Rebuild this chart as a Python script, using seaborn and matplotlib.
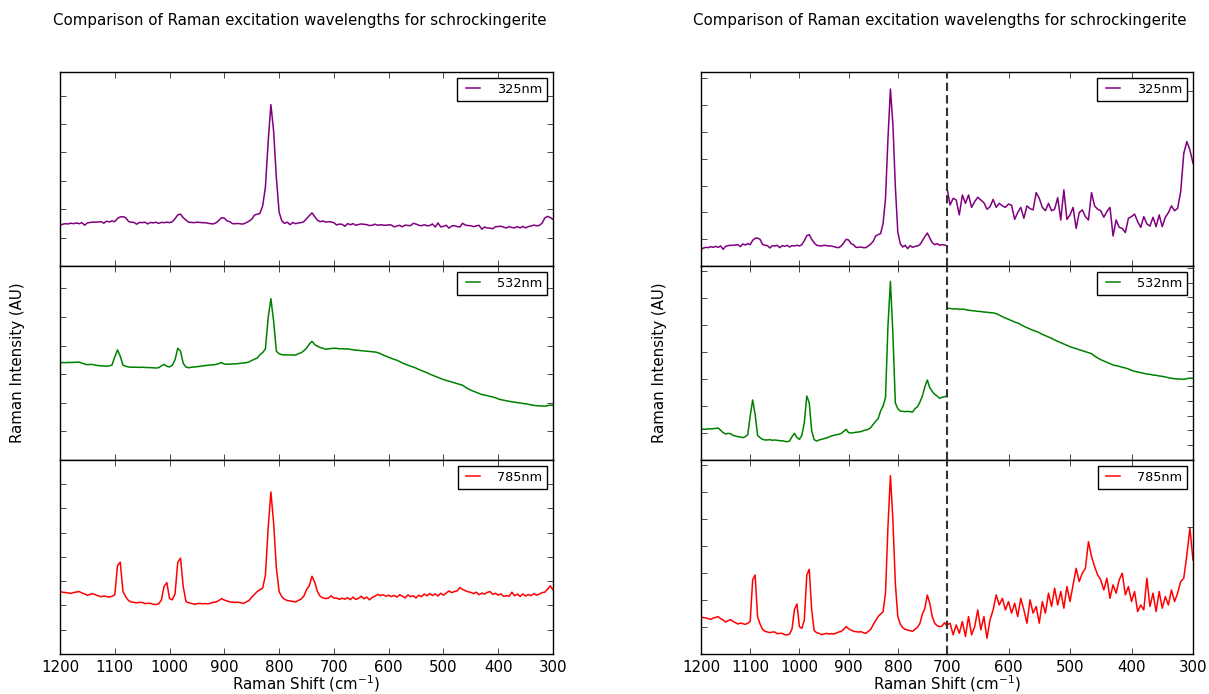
## Raman spectra of schrockingerite at three excitation wavelengths

import numpy as np
import pandas as pd
import seaborn as sns
import matplotlib.pyplot as plt
from matplotlib.ticker import MultipleLocator, FixedLocator

plt.style.use("classic")
plt.rcParams.update({
    "font.family": ["DejaVu Sans"],
    "font.size": 10.8,
    "mathtext.fontset": "dejavusans",
    "figure.facecolor": "white",
    "savefig.facecolor": "white",
    "lines.linewidth": 1.0,
})

# Raman shift grid (cm-1), 5 cm-1 steps
shift = np.arange(1200, 299, -5)

# intensities (AU), 1200 -> 700 and 695 -> 300
int_325_hi = [1428, 1472, 1489, 1481, 1507, 1489, 1516, 1489, 1525, 1437,
              1516, 1534, 1543, 1543, 1551, 1560, 1507, 1578, 1551, 1587,
              1560, 1675, 1728, 1737, 1701, 1569, 1543, 1534, 1472, 1534,
              1525, 1543, 1481, 1534, 1516, 1543, 1498, 1534, 1525, 1543,
              1525, 1560, 1666, 1798, 1825, 1701, 1613, 1543, 1534, 1525,
              1543, 1534, 1525, 1525, 1507, 1489, 1481, 1525, 1604, 1701,
              1684, 1587, 1560, 1489, 1489, 1498, 1481, 1481, 1525, 1578,
              1648, 1790, 1825, 1852, 2116, 2778, 4367, 5680, 4750, 3100,
              1896, 1587, 1498, 1543, 1454, 1534, 1489, 1516, 1525, 1560,
              1666, 1772, 1869, 1737, 1613, 1560, 1587, 1543, 1560, 1551,
              1525]
int_325_lo = [1444, 1476, 1468, 1397, 1492, 1452, 1492, 1433, 1460, 1481,
              1468, 1455, 1424, 1436, 1471, 1433, 1452, 1440, 1433, 1449,
              1443, 1376, 1408, 1433, 1381, 1440, 1427, 1421, 1503, 1476,
              1433, 1417, 1452, 1417, 1424, 1479, 1373, 1516, 1376, 1397,
              1433, 1333, 1408, 1421, 1389, 1373, 1503, 1440, 1424, 1417,
              1386, 1413, 1433, 1297, 1373, 1338, 1333, 1313, 1381, 1389,
              1401, 1365, 1338, 1389, 1354, 1344, 1386, 1341, 1397, 1341,
              1386, 1408, 1440, 1417, 1428, 1508, 1690, 1746, 1706, 1643]

int_532_hi = [3392, 3407, 3402, 3412, 3407, 3412, 3417, 3422, 3387, 3352,
              3331, 3341, 3336, 3311, 3301, 3291, 3286, 3276, 3291, 3321,
              3604, 3846, 3629, 3311, 3276, 3251, 3241, 3241, 3246, 3236,
              3241, 3236, 3230, 3230, 3220, 3215, 3225, 3291, 3341, 3276,
              3251, 3311, 3503, 3906, 3805, 3377, 3246, 3225, 3241, 3251,
              3261, 3271, 3286, 3301, 3311, 3321, 3326, 3341, 3372, 3402,
              3352, 3346, 3352, 3357, 3362, 3367, 3382, 3392, 3402, 3427,
              3478, 3523, 3563, 3679, 3755, 3881, 4965, 5640, 4850, 3800,
              3715, 3679, 3674, 3669, 3674, 3669, 3664, 3715, 3745, 3815,
              3906, 4047, 4148, 4032, 3977, 3931, 3906, 3871, 3886, 3896,
              3906]
int_532_lo = [3902, 3886, 3893, 3877, 3884, 3867, 3852, 3839, 3833, 3819,
              3814, 3800, 3795, 3781, 3776, 3753, 3715, 3667, 3629, 3591,
              3553, 3515, 3487, 3439, 3392, 3354, 3315, 3277, 3249, 3211,
              3163, 3125, 3087, 3049, 3002, 2964, 2926, 2888, 2849, 2811,
              2783, 2754, 2726, 2697, 2669, 2640, 2612, 2545, 2488, 2441,
              2403, 2365, 2326, 2288, 2269, 2250, 2222, 2203, 2174, 2136,
              2108, 2089, 2070, 2051, 2032, 2022, 2003, 1994, 1975, 1965,
              1946, 1927, 1908, 1898, 1889, 1889, 1879, 1898, 1917, 1908]

int_785_hi = [2575, 2546, 2536, 2516, 2497, 2536, 2555, 2575, 2516, 2478,
              2419, 2458, 2487, 2439, 2400, 2361, 2390, 2371, 2351, 2381,
              2439, 3643, 3788, 2575, 2361, 2206, 2148, 2128, 2109, 2128,
              2128, 2080, 2089, 2089, 2051, 2041, 2070, 2216, 2788, 2944,
              2284, 2235, 2478, 3788, 3953, 2769, 2167, 2109, 2089, 2051,
              2070, 2089, 2070, 2080, 2070, 2099, 2128, 2148, 2206, 2284,
              2225, 2187, 2148, 2138, 2128, 2138, 2109, 2089, 2148, 2206,
              2342, 2458, 2575, 2652, 2720, 3254, 5196, 6680, 5400, 3545,
              2575, 2361, 2254, 2206, 2187, 2167, 2148, 2206, 2264, 2381,
              2652, 2817, 3206, 2963, 2575, 2381, 2313, 2284, 2303, 2400,
              2303]
int_785_lo = [2312, 2251, 2303, 2259, 2321, 2242, 2347, 2251, 2294, 2382,
              2277, 2347, 2233, 2330, 2382, 2461, 2408, 2443, 2382, 2426,
              2365, 2417, 2347, 2443, 2382, 2312, 2435, 2365, 2400, 2312,
              2426, 2365, 2470, 2400, 2496, 2408, 2479, 2391, 2505, 2426,
              2514, 2601, 2531, 2575, 2601, 2741, 2663, 2610, 2566, 2540,
              2487, 2549, 2443, 2514, 2470, 2540, 2575, 2461, 2505, 2426,
              2479, 2373, 2408, 2382, 2549, 2400, 2470, 2373, 2479, 2391,
              2452, 2408, 2487, 2426, 2470, 2531, 2549, 2671, 2812, 2645]

labels = ["325nm", "532nm", "785nm"]
colors = ["purple", "green", "red"]
spectra = [int_325_hi + int_325_lo, int_532_hi + int_532_lo, int_785_hi + int_785_lo]

# y ranges: full view, zoom 1200-700, zoom 700-300
ylim_full = [(0, 6830), (0, 6780), (0, 8000)]
ylim_hi = [(995, 6132), (2938, 5873), (1488, 7137)]
ylim_lo = [(1154, 2077), (-422, 5113), (2150, 3171)]
ytick_hi = [710, 408, 786]
ytick_lo = [[1988], list(np.arange(0, 5113, 422)), [2818]]

title = "Comparison of Raman excitation wavelengths for schrockingerite"

fig = plt.figure(figsize=(12.09, 6.94), dpi=100)
gs_l = fig.add_gridspec(3, 1, left=60/1209, right=553/1209, top=622/694, bottom=40/694, hspace=0)
gs_r = fig.add_gridspec(3, 2, left=701/1209, right=1193/1209, top=622/694, bottom=40/694,
                        hspace=0, wspace=0)

leg_kw = dict(loc="upper right", fontsize=9.3, handlelength=1.7, handletextpad=1.0,
              borderpad=0.35, fancybox=False)

for r in range(3):
    df = pd.DataFrame({"shift": shift, "intensity": spectra[r]})

    # left column: full range
    ax = fig.add_subplot(gs_l[r])
    sns.lineplot(data=df, x="shift", y="intensity", color=colors[r], lw=1.1, ax=ax,
                 label=labels[r], sort=False)
    ax.set_xlim(1200, 300)
    ax.set_ylim(*ylim_full[r])
    ax.xaxis.set_major_locator(MultipleLocator(100))
    ax.yaxis.set_major_locator(MultipleLocator(1000))
    ax.tick_params(labelleft=False, labelbottom=(r == 2))
    ax.set_xlabel("")
    ax.set_ylabel("")
    ax.legend(**leg_kw)
    if r == 1:
        ax.set_ylabel("Raman Intensity (AU)")
        ax.yaxis.set_label_coords(-0.071, 0.5)
    if r == 2:
        ax.set_xlabel(r"Raman Shift (cm$^{-1}$)")
        ax.xaxis.set_label_coords(0.5, -0.1)

    # right column: two zoomed halves
    axl = fig.add_subplot(gs_r[r, 0])
    axr = fig.add_subplot(gs_r[r, 1])
    for a in (axl, axr):
        sns.lineplot(data=df, x="shift", y="intensity", color=colors[r], lw=1.1, ax=a,
                     label=labels[r], sort=False)
        a.set_xlabel("")
        a.set_ylabel("")
    axl.set_xlim(1200, 700)
    axr.set_xlim(700, 300)
    axl.set_ylim(*ylim_hi[r])
    axr.set_ylim(*ylim_lo[r])
    axl.xaxis.set_major_locator(MultipleLocator(100))
    axr.xaxis.set_major_locator(FixedLocator([600, 500, 400, 300]))
    axl.yaxis.set_major_locator(FixedLocator(np.arange(ylim_hi[r][0], ylim_hi[r][1], ytick_hi[r])))
    axr.yaxis.set_major_locator(FixedLocator(ytick_lo[r]))
    axl.spines["right"].set_visible(False)
    axr.spines["left"].set_visible(False)
    axl.tick_params(right=False, labelleft=False, labelbottom=(r == 2))
    axr.tick_params(left=False, labelleft=False, labelright=False, labelbottom=(r == 2))
    # boundary between the two zoomed ranges
    axr.axvline(700, color="0.2", ls=(0, (6, 3)), lw=1.5, clip_on=False, zorder=5)
    if axl.get_legend() is not None:
        axl.get_legend().remove()
    axr.legend(**leg_kw)
    if r == 1:
        axl.set_ylabel("Raman Intensity (AU)")
        axl.yaxis.set_label_coords(-0.138, 0.5)
    if r == 2:
        axl.set_xlabel(r"Raman Shift (cm$^{-1}$)")
        axl.xaxis.set_label_coords(1.0, -0.1)

fig.text(0.2477, 0.9705, title, ha="center", va="center", fontsize=10.8)
fig.text(0.7775, 0.9705, title, ha="center", va="center", fontsize=10.8)

fig.savefig("out.png", dpi=100)
